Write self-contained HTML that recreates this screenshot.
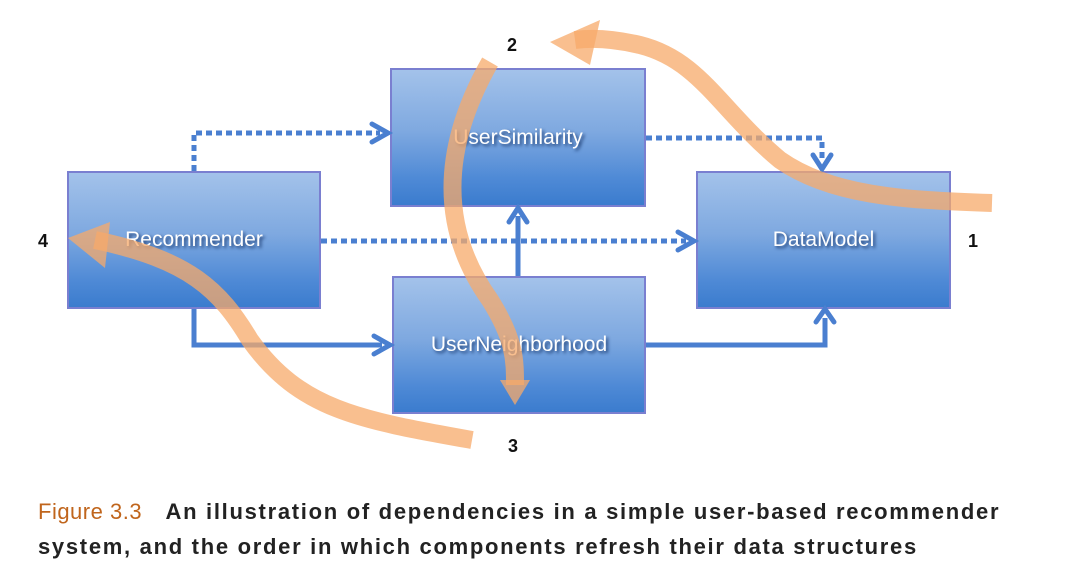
<!DOCTYPE html>
<html><head><style>
body{margin:0;width:1080px;height:580px;background:#fff;overflow:hidden;font-family:"Liberation Sans",sans-serif;position:relative}
.box{position:absolute;border:2px solid #7a7fd0;box-sizing:border-box;background:linear-gradient(#a3c2ea 0%,#7fa9e0 45%,#4f8ad6 80%,#3b7cce 100%);display:flex;align-items:center;justify-content:center;color:#fff;font-size:21px;text-shadow:2px 2px 3px #1c3b70}
.n{position:absolute;font-weight:bold;font-size:18px;color:#111}
.cap{position:absolute;left:38px;top:494px;font-size:22px;font-weight:bold;color:#222;line-height:35px;letter-spacing:1.7px;white-space:nowrap}
</style></head><body>
<div class="box" style="left:390px;top:68px;width:256px;height:139px">UserSimilarity</div>
<div class="box" style="left:67px;top:171px;width:254px;height:138px">Recommender</div>
<div class="box" style="left:696px;top:171px;width:255px;height:138px">DataModel</div>
<div class="box" style="left:392px;top:276px;width:254px;height:138px">UserNeighborhood</div>
<svg width="1080" height="580" style="position:absolute;left:0;top:0">
<g stroke="#4a7fd0" stroke-width="5" fill="none">
<path d="M194 171V133H380" stroke-dasharray="6 4"/>
<path d="M646 138H822V162" stroke-dasharray="6 4"/>
<path d="M321 241H686" stroke-dasharray="6 4"/>
<path d="M194 309V345H382"/>
<path d="M518 276V216"/>
<path d="M646 345H825V318"/>
</g>
<g stroke="#4a7fd0" stroke-width="5" fill="none" stroke-linecap="round">
<path d="M372 124L388 133L372 142"/>
<path d="M813 155L822 169L831 155"/>
<path d="M678 232L694 241L678 250"/>
<path d="M374 336L390 345L374 354"/>
<path d="M509 222L518 208L527 222"/>
<path d="M816 322L825 309L834 322"/>
</g>
<g fill="none" stroke="#f7a96a" stroke-opacity="0.75" stroke-width="18">
<path d="M992 203C900 200 830 195 780 160C720 110 700 60 640 45C610 38 590 38 575 40"/>
<path d="M490 62C440 150 440 230 490 300C515 340 515 360 515 385"/>
<path d="M472 440C360 420 300 410 250 340C220 290 190 260 95 240"/>
</g>
<g fill="#f7a96a" fill-opacity="0.75">
<path d="M550 42L600 20L590 65Z"/>
<path d="M500 380L530 380L515 405Z"/>
<path d="M68 238L110 222L105 268Z"/>
</g>
</svg>
<div class="n" style="left:507px;top:35px">2</div>
<div class="n" style="left:38px;top:231px">4</div>
<div class="n" style="left:968px;top:231px">1</div>
<div class="n" style="left:508px;top:436px">3</div>
<div class="cap"><span style="color:#c0651c;font-weight:normal;letter-spacing:0.5px">Figure 3.3</span>&nbsp;&nbsp;&nbsp;An illustration of dependencies in a simple user-based recommender<br>system, and the order in which components refresh their data structures</div>
</body></html>
